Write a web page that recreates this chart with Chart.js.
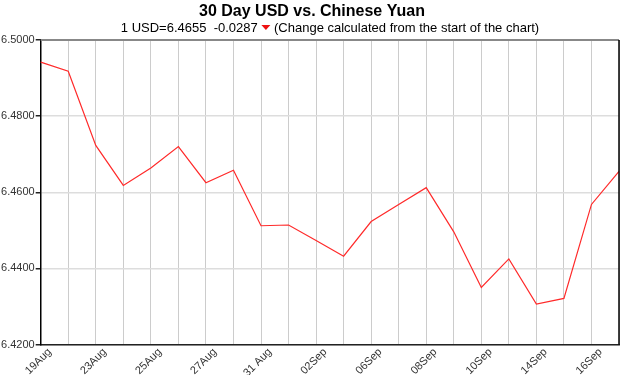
<!DOCTYPE html>
<html>
<head>
<meta charset="utf-8">
<script src="https://cdn.jsdelivr.net/npm/chart.js@4.4.1/dist/chart.umd.min.js"></script>
<style>
html,body{margin:0;padding:0;background:#fff;}
#wrap{width:627px;height:375px;position:relative;}
</style>
</head>
<body>
<div id="wrap"><canvas id="c" width="627" height="375"></canvas></div>
<script>
const dates = ['19Aug','20Aug','23Aug','24Aug','25Aug','26Aug','27Aug','30Aug','31 Aug','01Sep','02Sep','03Sep','06Sep','07Sep','08Sep','09Sep','10Sep','13Sep','14Sep','15Sep','16Sep','17Sep'];
const rates = [6.4942,6.4918,6.4723,6.4618,6.4664,6.4720,6.4625,6.4658,6.4512,6.4514,6.4473,6.4432,6.4523,6.4568,6.4612,6.4496,6.4350,6.4425,6.4306,6.4321,6.4568,6.4655];
const yTicks = [6.42,6.44,6.46,6.48,6.50];
const titleText = '30 Day USD vs. Chinese Yuan';
const lastRate = rates[rates.length-1];
const change = lastRate - rates[0];
const subLeft = '1 USD=' + lastRate.toFixed(4) + '  ' + change.toFixed(4) + ' ';
const subRight = ' (Change calculated from the start of the chart)';

const FONT = '"Liberation Sans", Arial, sans-serif';

const headerPlugin = {
  id: 'header',
  afterDraw(chart) {
    const ctx = chart.ctx;
    const cx = 312;
    ctx.save();
    ctx.fillStyle = '#000';
    ctx.textBaseline = 'middle';
    ctx.textAlign = 'center';
    ctx.font = 'bold 16px ' + FONT;
    ctx.fillText(titleText, cx, 12);
    ctx.font = '13px ' + FONT;
    ctx.textAlign = 'left';
    const w1 = ctx.measureText(subLeft).width;
    const triW = 9;
    const w2 = ctx.measureText(subRight).width;
    const total = w1 + triW + w2;
    let x = 330 - total/2;
    const y = 28;
    ctx.fillText(subLeft, x, y);
    x += w1;
    ctx.fillStyle = '#ee1111';
    ctx.beginPath();
    ctx.moveTo(x, y-3);
    ctx.lineTo(x+triW, y-3);
    ctx.lineTo(x+triW/2, y+2);
    ctx.closePath();
    ctx.fill();
    x += triW;
    ctx.fillStyle = '#000';
    ctx.fillText(subRight, x, y);
    // frame: top grey, right black
    const a = chart.chartArea;
    ctx.strokeStyle = '#888';
    ctx.lineWidth = 2;
    ctx.beginPath();
    ctx.moveTo(a.left, a.top);
    ctx.lineTo(a.right, a.top);
    ctx.stroke();
    ctx.strokeStyle = '#000';
    ctx.lineWidth = 1.5;
    ctx.beginPath();
    ctx.moveTo(a.right, a.top);
    ctx.lineTo(a.right, a.bottom);
    ctx.stroke();
    ctx.restore();
  }
};

new Chart(document.getElementById('c'), {
  type: 'line',
  data: {
    labels: dates,
    datasets: [{
      data: rates,
      borderColor: '#ff2a2a',
      borderWidth: 1.2,
      pointRadius: 0,
      tension: 0,
      fill: false
    }]
  },
  options: {
    responsive: false,
    animation: false,
    devicePixelRatio: 1,
    layout: { padding: { top: 40, right: 8, left: 0, bottom: 0 } },
    plugins: { legend: { display: false }, title: { display: false }, tooltip: { enabled: false } },
    scales: {
      x: {
        type: 'category',
        offset: false,
        afterFit(s) { s.height = 30.5; s.paddingRight = 0; },
        grid: {
          color: '#cccccc',
          lineWidth: 1,
          drawTicks: false
        },
        border: { color: '#222', width: 1.5 },
        ticks: {
          autoSkip: false,
          maxRotation: 45,
          minRotation: 45,
          padding: 1,
          labelOffset: 9,
          color: '#333',
          font: { family: FONT, size: 11 },
          callback(v, i) { return i % 2 === 0 ? dates[i] : ''; }
        }
      },
      y: {
        min: 6.42,
        max: 6.50,
        afterFit(s) { s.width = 40.7; },
        afterBuildTicks(s) { s.ticks = yTicks.map(v => ({ value: v })); },
        grid: {
          color: '#dddddd',
          lineWidth: 1.5,
          tickColor: '#222',
          tickLength: 5
        },
        border: { color: '#000', width: 1.5 },
        ticks: {
          padding: 1,
          color: '#333',
          font: { family: FONT, size: 11 },
          callback(v) { return Number(v).toFixed(4); }
        }
      }
    }
  },
  plugins: [headerPlugin]
});
</script>
</body>
</html>
